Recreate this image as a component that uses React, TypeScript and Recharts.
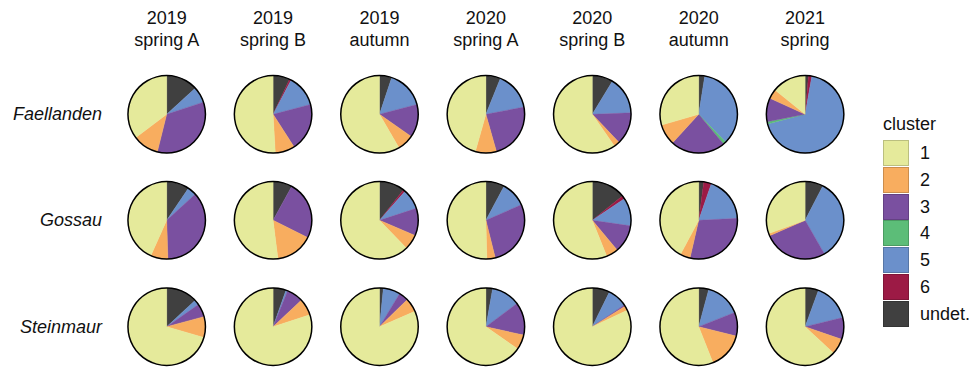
import React from "react";
import { PieChart, Pie, Cell } from "recharts";

// cluster order: 1, 2, 3, 4, 5, 6, undet.
const clusters = ["1", "2", "3", "4", "5", "6", "undet."];
const clusterColors = ["#e5ea9b", "#f8ad5f", "#7a50a0", "#5cbd78", "#6b90cb", "#9c1a45", "#404040"];

const periodYears = ["2019", "2019", "2019", "2020", "2020", "2020", "2021"];
const periodSeasons = ["spring A", "spring B", "autumn", "spring A", "spring B", "autumn", "spring"];

const sites = ["Faellanden", "Gossau", "Steinmaur"];

const faellanden = [
  [35.3, 10.8, 34.0, 0, 6.7, 0, 13.2],
  [50.9, 8.2, 20.0, 0, 13.2, 0.7, 7.0],
  [58.4, 6.9, 13.8, 0, 15.8, 0, 5.1],
  [45.6, 8.8, 23.6, 0, 15.9, 0, 6.1],
  [59.7, 2.4, 13.5, 0, 15.7, 0, 8.7],
  [29.5, 8.7, 22.9, 1.2, 35.2, 0, 2.5],
  [14.2, 4.0, 9.9, 0.9, 68.2, 1.4, 1.4],
];

const gossau = [
  [43.3, 7.2, 36.3, 0, 3.7, 0, 9.5],
  [52.0, 15.6, 24.4, 0, 0, 0, 8.0],
  [62.2, 6.4, 11.4, 0, 8.5, 0.9, 10.6],
  [50.4, 3.5, 27.7, 0, 10.6, 0, 7.8],
  [56.1, 5.0, 11.6, 0, 11.7, 1.4, 14.2],
  [42.2, 4.2, 29.4, 0, 18.9, 3.2, 2.1],
  [30.6, 0.9, 26.8, 0, 34.1, 0, 7.6],
];

const steinmaur = [
  [70.5, 8.7, 5.5, 0, 2.2, 0, 13.1],
  [80.0, 7.0, 6.9, 0, 0.7, 0, 5.4],
  [81.5, 5.8, 4.0, 0, 7.1, 0, 1.6],
  [65.3, 6.2, 13.7, 0, 12.0, 0, 2.8],
  [82.0, 1.9, 0.6, 0, 8.2, 0, 7.3],
  [56.0, 15.1, 9.9, 0, 14.8, 0, 4.2],
  [63.1, 6.6, 9.1, 0, 15.6, 0, 5.6],
];

const siteValues = [faellanden, gossau, steinmaur];

// layout
const W = 971;
const H = 368;
const COL_X0 = 166.7;
const COL_STEP = 106.4;
const ROW_Y = [114.3, 220.3, 326.7];
const R = 38.6;
const FONT = '"Liberation Sans", Arial, sans-serif';

function buildSlices(values: number[]) {
  // clockwise from 12 o'clock: undet., 6, 5, 4, 3, 2, 1
  const out: { name: string; value: number; color: string }[] = [];
  for (let i = clusters.length - 1; i >= 0; i--) {
    if (values[i] > 0) out.push({ name: clusters[i], value: values[i], color: clusterColors[i] });
  }
  return out;
}

const ring = [{ name: "outline", value: 1 }];

export default function App() {
  const pies: React.ReactNode[] = [];
  siteValues.forEach((rows, ri) => {
    rows.forEach((vals, ci) => {
      const cx = COL_X0 + ci * COL_STEP;
      const cy = ROW_Y[ri];
      const slices = buildSlices(vals);
      pies.push(
        <Pie
          key={`p-${ri}-${ci}`}
          data={slices}
          dataKey="value"
          nameKey="name"
          cx={cx}
          cy={cy}
          innerRadius={0}
          outerRadius={R}
          startAngle={90}
          endAngle={-270}
          isAnimationActive={false}
          stroke="none"
        >
          {slices.map((s, k) => (
            <Cell key={k} fill={s.color} stroke={s.color} strokeWidth={0.4} />
          ))}
        </Pie>
      );
      pies.push(
        <Pie
          key={`r-${ri}-${ci}`}
          data={ring}
          dataKey="value"
          cx={cx}
          cy={cy}
          innerRadius={R - 0.6}
          outerRadius={R + 0.9}
          startAngle={90}
          endAngle={-270}
          isAnimationActive={false}
          fill="#000"
          stroke="none"
        />
      );
    });
  });

  return (
    <div
      style={{
        position: "absolute",
        left: 0,
        top: 0,
        width: W,
        height: H,
        background: "#fff",
        fontFamily: FONT,
        color: "#111",
        overflow: "hidden",
      }}
    >
      <div style={{ position: "absolute", left: 0, top: 0 }}>
        <PieChart width={W} height={H} margin={{ top: 0, right: 0, bottom: 0, left: 0 }}>
          {pies}
        </PieChart>
      </div>

      {periodYears.map((y, ci) => (
        <div
          key={`h-${ci}`}
          style={{
            position: "absolute",
            left: COL_X0 + ci * COL_STEP - 50,
            width: 100,
            top: 7,
            textAlign: "center",
            fontSize: 18,
            lineHeight: "22px",
          }}
        >
          <div>{y}</div>
          <div>{periodSeasons[ci]}</div>
        </div>
      ))}

      {sites.map((s, ri) => (
        <div
          key={`s-${ri}`}
          style={{
            position: "absolute",
            right: W - 102,
            top: ROW_Y[ri] - 11,
            fontSize: 18,
            lineHeight: "22px",
            fontStyle: "italic",
            whiteSpace: "nowrap",
          }}
        >
          {s}
        </div>
      ))}

      <div
        style={{
          position: "absolute",
          left: 883,
          top: 113,
          fontSize: 18,
          lineHeight: "22px",
        }}
      >
        cluster
      </div>
      {clusters.map((c, i) => (
        <React.Fragment key={`l-${i}`}>
          <div
            style={{
              position: "absolute",
              left: 883,
              top: 140 + i * 26.8,
              width: 26,
              height: 26,
              boxSizing: "border-box",
              background: clusterColors[i],
              border: "1px solid rgba(0,0,0,0.18)",
            }}
          />
          <div
            style={{
              position: "absolute",
              left: 920,
              top: 140 + i * 26.8 + 2,
              fontSize: 18,
              lineHeight: "22px",
            }}
          >
            {c}
          </div>
        </React.Fragment>
      ))}
    </div>
  );
}
